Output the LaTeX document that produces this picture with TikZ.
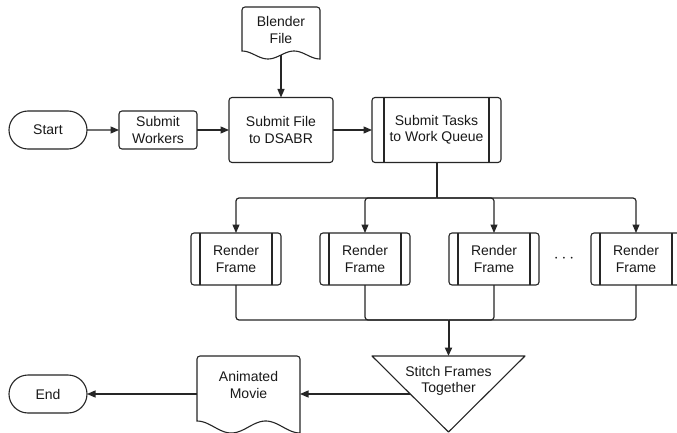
\documentclass[tikz,border=0pt]{standalone}
\usepackage{fontspec}
\setmainfont{Liberation Sans}
\usetikzlibrary{arrows.meta,shapes.misc}
\tikzset{
  shp/.style={draw=black!85, line width=1.1pt},
  txt/.style={font=\fontsize{14}{16.5}\selectfont, align=center, text=black!90},
  procbox/.style={shp, txt, rounded corners=3pt, inner sep=0pt, outer sep=0pt},
  termbox/.style={shp, txt, rounded rectangle, minimum width=78pt, minimum height=38pt, inner sep=0pt, outer sep=0pt},
  predef/.style={procbox, minimum width=90pt, minimum height=52pt},
  conn/.style={draw=black!85, line width=1.2pt},
  arr/.style={conn, -{Triangle[length=8.5pt,width=7pt]}},
  heavyconn/.style={draw=black!85, line width=2pt},
}
\begin{document}
\begin{tikzpicture}[x=1pt, y=-1pt]
\useasboundingbox (0,0) rectangle (677,433);
\clip (0,0) rectangle (677,433);
\fill[white] (0,0) rectangle (677,433);

% terminals
\node[termbox] (start) at (48,130) {Start};
\node[termbox] (end) at (48,394) {End};

% process boxes
\node[procbox, minimum width=78pt, minimum height=38pt] (workers) at (158,130) {Submit\\Workers};
\node[procbox, minimum width=104pt, minimum height=65pt] (dsabr) at (281,130) {Submit File\\to DSABR};
\node[procbox, minimum width=129pt, minimum height=65pt] (tasks) at (436.5,130) {Submit Tasks\\to Work Queue};
\draw[shp] ([xshift=12pt]tasks.north west) -- ([xshift=12pt]tasks.south west);
\draw[shp] ([xshift=-12pt]tasks.north east) -- ([xshift=-12pt]tasks.south east);

% Blender file document
\draw[shp] (242,51) [rounded corners=3pt] -- (242,7) -- (320,7) [sharp corners] -- (320,59)
  -- plot[domain=1:0, samples=40] ({242+78*\x},{55-4*cos(540*\x)}) -- cycle;
\node[txt] (blender) at (281,30) {Blender\\File};
\coordinate (blbot) at (281,55);

% render frames
\foreach \n/\xx in {r1/236, r2/365, r3/494, r4/636}{
  \node[predef] (\n) at (\xx,259) {Render\\Frame};
  \draw[shp] ([xshift=9pt]\n.north west) -- ([xshift=9pt]\n.south west);
  \draw[shp] ([xshift=-9pt]\n.north east) -- ([xshift=-9pt]\n.south east);
}
\node[txt, font=\fontsize{17}{17}\selectfont] (dots) at (564,259) {$\cdots$};

% triangle (merge)
\draw[shp, line join=round] (372,356) -- (525,356) -- (448.5,432) -- cycle;
\node[txt] (stitch) at (448.5,381) {Stitch Frames\\Together};
\coordinate (tritop) at (448.5,356);
\coordinate (trileft) at (410,394);

% animated movie document
\draw[shp] (197,421) [rounded corners=3pt] -- (197,356) -- (300,356) [sharp corners] -- (300,433)
  -- plot[domain=1:0, samples=50] ({197+103*\x},{427-6*cos(540*\x)}) -- cycle;
\node[txt] (movie) at (248.5,385) {Animated\\Movie};
\coordinate (movieE) at (300,394);
\coordinate (movieW) at (197,394);

% connectors
\draw[arr] (start) -- (workers);
\draw[arr] (workers) -- (dsabr);
\draw[arr] (blbot) -- (dsabr);
\draw[arr] (dsabr) -- (tasks);

\coordinate (busA) at (436.5,198);
\draw[heavyconn] (tasks.south) -- (busA);
\foreach \n in {r1,r2,r3,r4}{
  \draw[arr, rounded corners=3pt] (busA) -| (\n.north);
}

\coordinate (merge) at (448.5,320);
\foreach \n in {r1,r2,r3,r4}{
  \draw[conn, rounded corners=3pt] (\n.south) |- (merge);
}
\draw[heavyconn, -{Triangle[length=8.5pt,width=7pt]}] (merge) -- (tritop);

\draw[arr] (trileft) -- (movieE);
\draw[arr] (movieW) -- (end.east);
\end{tikzpicture}
\end{document}
